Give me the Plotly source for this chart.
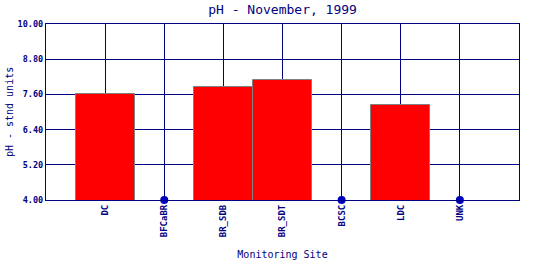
import plotly.graph_objects as go

sites = ["DC", "BFCaBR", "BR_SDB", "BR_SDT", "BCSC", "LDC", "UNK"]
ph_values = [7.60, None, 7.85, 8.09, None, 7.24, None]
y_ticks = [4.00, 5.20, 6.40, 7.60, 8.80, 10.00]
y_min, y_max = 4.0, 10.0

NAVY = "#000080"
FONT = "DejaVu Sans Mono"

xs = list(range(len(sites)))
bar_x = [x for x, v in zip(xs, ph_values) if v is not None]
bar_y = [v for v in ph_values if v is not None]
miss_x = [x for x, v in zip(xs, ph_values) if v is None]
miss_y = [y_min for v in ph_values if v is None]

fig = go.Figure()
fig.add_trace(go.Bar(
    x=bar_x, y=bar_y, width=1.0,
    marker=dict(color="#ff0000", line=dict(color="#808080", width=1)),
    showlegend=False,
))
fig.add_trace(go.Scatter(
    x=miss_x, y=miss_y, mode="markers",
    marker=dict(color="#0000c0", size=8),
    cliponaxis=False, showlegend=False,
))

fig.update_layout(
    width=540, height=260,
    margin=dict(l=46, r=21, t=24, b=60, autoexpand=False),
    paper_bgcolor="white", plot_bgcolor="white",
    font=dict(family=FONT, color=NAVY),
    title=dict(text="pH - November, 1999", x=0.5233, xanchor="center",
               y=0.962, yanchor="middle", font=dict(size=13, color=NAVY)),
    bargap=0,
    annotations=[dict(
        text="pH - stnd units", textangle=-90, showarrow=False,
        xref="paper", yref="paper", x=-0.078, y=0.5,
        xanchor="center", yanchor="middle",
        font=dict(size=10, color=NAVY, family=FONT),
    )],
)
fig.update_xaxes(
    range=[-1, len(sites)], tickmode="array", tickvals=xs, ticktext=sites,
    tickangle=-90, tickfont=dict(size=9, color=NAVY, weight="bold"),
    showgrid=True, gridcolor=NAVY, gridwidth=1.3,
    showline=True, linecolor=NAVY, linewidth=1.3, mirror=True,
    ticks="", zeroline=False, automargin=False,
    title=dict(text="Monitoring Site", font=dict(size=10, color=NAVY), standoff=17),
)
fig.update_yaxes(
    range=[y_min, y_max], tickmode="array", tickvals=y_ticks,
    ticktext=["%.2f" % v for v in y_ticks],
    tickfont=dict(size=8.5, color=NAVY, weight="bold"),
    showgrid=True, gridcolor=NAVY, gridwidth=1.3,
    showline=True, linecolor=NAVY, linewidth=1.3, mirror=True,
    ticks="", zeroline=False, automargin=False,
)

fig.write_html("out.html")
